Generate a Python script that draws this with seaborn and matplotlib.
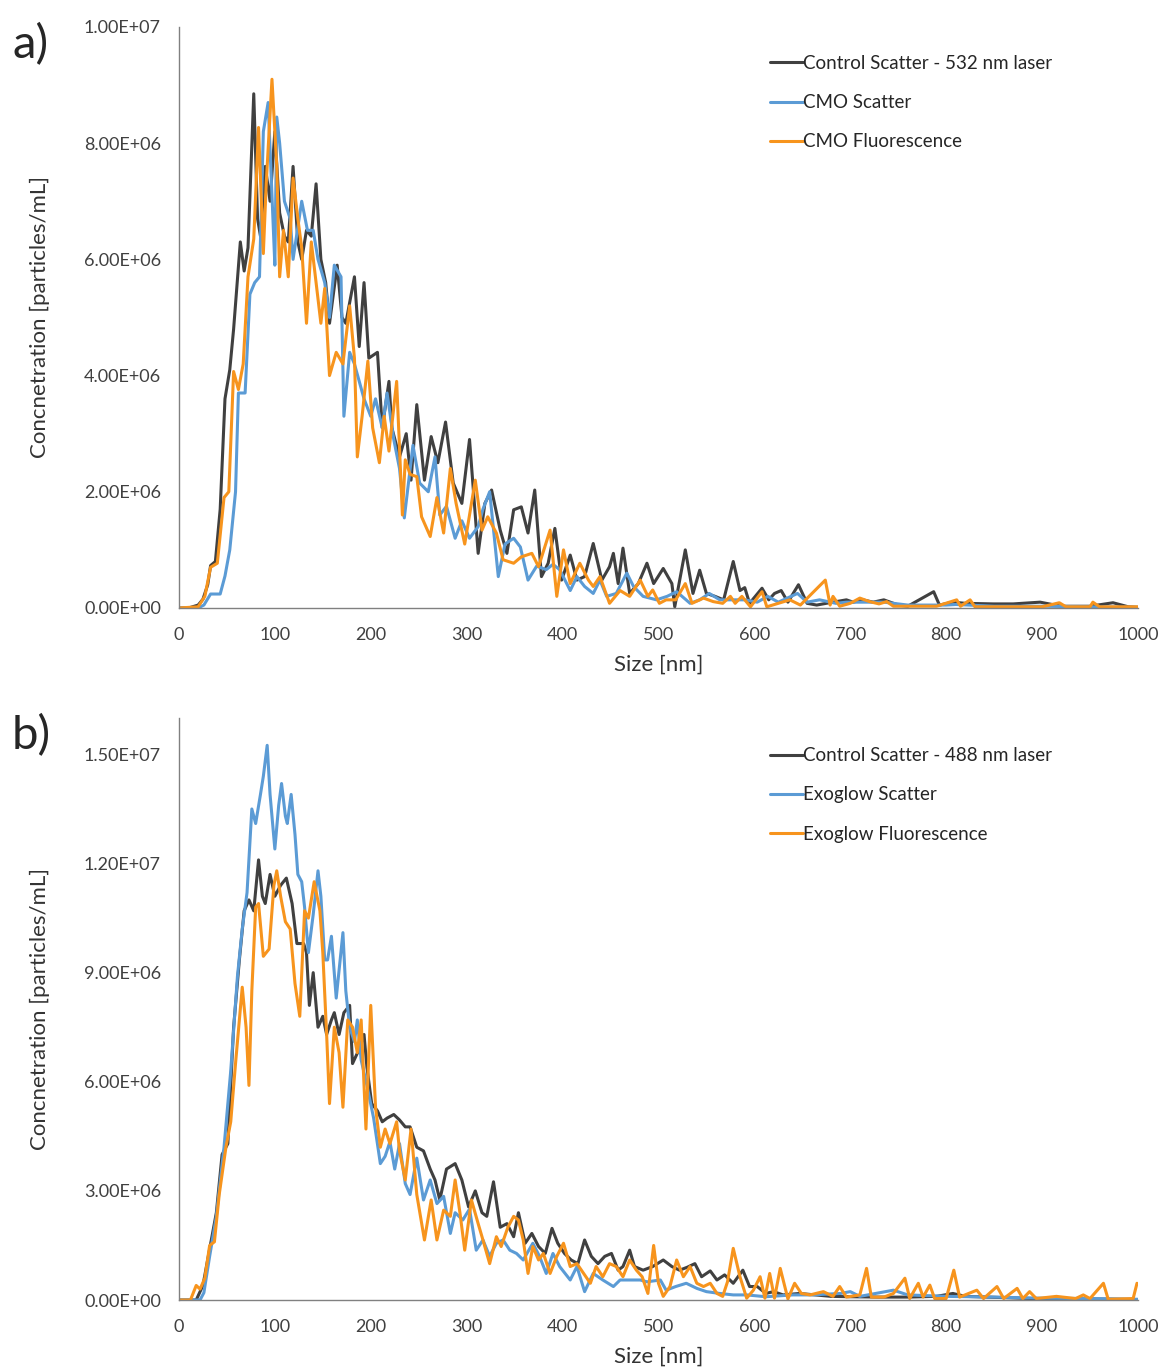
import numpy as np
import pandas as pd
import seaborn as sns
import matplotlib
matplotlib.use("Agg")
import matplotlib.pyplot as plt
from matplotlib.ticker import FuncFormatter, MultipleLocator

# values, concentration in units of 1e6 particles/mL
# panel a) - 532 nm laser
a_ctrl_nm = [0, 10, 20, 25, 30, 33, 38, 43, 48, 53, 57, 64, 68, 72, 78, 82, 85, 90, 95, 100,
             105, 110, 114, 119, 124, 128, 133, 138, 143, 148, 153, 157, 165, 170, 174, 183, 188, 193, 198, 207,
             212, 219, 222, 230, 237, 242, 248, 256, 263, 270, 278, 286, 295, 303, 312, 319, 326, 335, 342, 349,
             357, 364, 371, 378, 385, 392, 399, 408, 415, 423, 432, 441, 449, 453, 458, 463, 470, 479, 488, 495,
             505, 514, 517, 528, 536, 543, 550, 559, 568, 578, 585, 590, 595, 608, 615, 621, 628, 635, 646, 655,
             665, 675, 696, 703, 713, 724, 735, 750, 760, 787, 793, 807, 820, 849, 870, 898, 920, 950, 974, 990, 1000]
a_ctrl_val = [0, 0, 0.05, 0.15, 0.4, 0.73, 0.8, 1.7, 3.6, 4.1, 4.8, 6.3, 5.8, 6.2, 8.85, 6.7, 6.4, 7.6, 7.0, 8.2,
              6.8, 6.4, 6.3, 7.6, 6.3, 6.0, 6.5, 6.4, 7.3, 6.0, 5.6, 4.9, 5.9, 5.0, 4.9, 5.7, 4.5, 5.6, 4.3, 4.4,
              3.1, 3.9, 3.1, 2.6, 3.0, 2.2, 3.5, 2.2, 2.95, 2.5, 3.2, 2.15, 1.8, 2.9, 0.94, 1.8, 2.03, 1.34, 0.94, 1.69,
              1.74, 1.29, 2.03, 0.54, 0.77, 1.37, 0.48, 0.91, 0.48, 0.54, 1.11, 0.48, 0.71, 0.94, 0.42, 1.03, 0.25, 0.42, 0.77, 0.42,
              0.68, 0.42, 0.02, 1.0, 0.25, 0.65, 0.25, 0.2, 0.14, 0.8, 0.3, 0.35, 0.08, 0.34, 0.14, 0.25, 0.3, 0.1, 0.4, 0.08,
              0.05, 0.08, 0.14, 0.1, 0.14, 0.1, 0.14, 0.05, 0.03, 0.28, 0.05, 0.1, 0.08, 0.07, 0.07, 0.1, 0.03, 0.03, 0.09, 0.02, 0.01]

a_cmo_nm = [0, 20, 26, 33, 43, 48, 53, 59, 62, 69, 74, 79, 84, 88, 93, 98, 100, 102, 105, 110,
            116, 119, 128, 134, 140, 145, 152, 157, 162, 169, 172, 178, 183, 188, 193, 200, 205, 212, 217, 224,
            230, 235, 244, 251, 260, 267, 272, 279, 288, 295, 303, 312, 317, 324, 333, 340, 349, 356, 364, 373,
            383, 390, 397, 408, 415, 423, 432, 439, 446, 456, 467, 474, 484, 498, 509, 519, 533, 543, 553, 564,
            578, 590, 603, 614, 625, 645, 655, 668, 685, 696, 720, 735, 760, 800, 810, 850, 900, 950, 1000]
a_cmo_val = [0, 0, 0.05, 0.24, 0.24, 0.55, 1.0, 2.0, 3.7, 3.7, 5.4, 5.6, 5.7, 8.2, 8.7, 6.7, 5.9, 8.45, 8.0, 7.0,
             6.7, 6.0, 7.0, 6.5, 6.5, 6.0, 5.6, 5.0, 5.9, 5.7, 3.3, 4.4, 4.2, 3.9, 3.6, 3.3, 3.6, 3.1, 3.7, 2.9,
             2.4, 1.55, 2.8, 2.15, 2.0, 2.6, 1.6, 1.75, 1.2, 1.5, 1.2, 1.4, 1.7, 2.0, 0.54, 1.1, 1.2, 1.05, 0.48, 0.72,
             0.66, 0.75, 0.66, 0.3, 0.54, 0.37, 0.25, 0.48, 0.2, 0.25, 0.6, 0.37, 0.2, 0.14, 0.2, 0.28, 0.08, 0.14, 0.25, 0.14,
             0.14, 0.14, 0.1, 0.2, 0.1, 0.25, 0.1, 0.14, 0.08, 0.1, 0.1, 0.1, 0.05, 0.05, 0.06, 0.03, 0.03, 0.02, 0.01]

a_fluo_nm = [0, 20, 27, 33, 40, 47, 52, 57, 62, 67, 72, 78, 83, 88, 91, 97, 102, 105, 109, 114,
             119, 124, 128, 133, 138, 143, 148, 152, 157, 164, 171, 178, 183, 186, 191, 197, 202, 209, 214, 219,
             227, 233, 236, 241, 248, 253, 262, 269, 276, 283, 289, 298, 309, 316, 322, 331, 338, 349, 357, 368,
             375, 387, 394, 401, 408, 418, 427, 432, 439, 449, 460, 470, 481, 489, 494, 501, 508, 518, 528, 535,
             547, 557, 567, 575, 580, 587, 596, 608, 613, 625, 637, 648, 674, 679, 682, 689, 700, 710, 720, 730,
             738, 745, 790, 811, 815, 825, 830, 900, 918, 925, 950, 953, 960, 1000]
a_fluo_val = [0, 0.02, 0.2, 0.7, 0.77, 1.9, 2.0, 4.07, 3.76, 4.2, 5.7, 6.35, 8.27, 6.1, 7.3, 9.1, 7.6, 5.7, 6.5, 5.7,
              7.4, 6.7, 6.2, 4.9, 6.3, 5.6, 4.9, 5.5, 4.0, 4.4, 4.2, 5.2, 4.3, 2.6, 3.3, 4.25, 3.1, 2.5, 3.3, 2.7,
              3.9, 1.6, 2.55, 2.3, 2.26, 1.57, 1.23, 1.9, 1.29, 2.4, 1.8, 1.1, 2.2, 1.34, 1.57, 1.29, 0.83, 0.77, 0.88, 0.94,
              0.71, 1.34, 0.2, 1.0, 0.42, 0.77, 0.48, 0.37, 0.54, 0.08, 0.3, 0.2, 0.48, 0.2, 0.31, 0.08, 0.14, 0.14, 0.42, 0.08,
              0.17, 0.11, 0.08, 0.2, 0.08, 0.2, 0.02, 0.28, 0.02, 0.08, 0.14, 0.05, 0.48, 0.05, 0.2, 0.03, 0.08, 0.17, 0.11, 0.07,
              0.11, 0.03, 0.03, 0.14, 0.03, 0.14, 0.02, 0.02, 0.09, 0.02, 0.02, 0.1, 0.02, 0.02]

# panel b) - 488 nm laser
b_ctrl_nm = [0, 18, 25, 32, 39, 45, 51, 57, 63, 68, 73, 78, 83, 87, 90, 95, 100, 106, 112, 118,
             123, 130, 133, 136, 140, 145, 150, 154, 159, 162, 167, 172, 178, 181, 188, 193, 196, 201, 207, 212,
             217, 224, 230, 236, 241, 248, 255, 262, 267, 272, 279, 288, 295, 302, 309, 316, 321, 328, 335, 342,
             349, 354, 361, 368, 375, 382, 389, 395, 402, 409, 416, 423, 430, 437, 444, 451, 458, 463, 470, 475,
             484, 494, 505, 514, 522, 530, 538, 545, 554, 561, 569, 578, 588, 595, 603, 612, 620, 630, 647, 680,
             700, 730, 760, 790, 807, 820, 890, 950, 1000]
b_ctrl_val = [0, 0, 0.4, 1.4, 2.4, 4.0, 4.3, 7.5, 9.35, 10.7, 11.0, 10.7, 12.1, 11.1, 10.9, 11.7, 11.1, 11.4, 11.6, 10.9,
              9.8, 9.8, 9.55, 8.1, 9.0, 7.5, 7.8, 7.3, 7.7, 7.9, 7.3, 7.9, 8.1, 6.5, 6.9, 7.3, 6.4, 5.4, 5.2, 4.9,
              5.0, 5.1, 4.95, 4.76, 4.76, 4.2, 4.1, 3.6, 3.3, 2.75, 3.6, 3.75, 3.3, 2.56, 3.0, 2.4, 2.3, 3.25, 2.0, 2.1,
              1.74, 2.4, 1.56, 1.83, 1.47, 1.28, 1.97, 1.56, 1.28, 1.1, 1.0, 1.65, 1.2, 1.0, 1.2, 1.28, 0.82, 0.92, 1.37, 0.92,
              0.82, 0.92, 1.1, 0.92, 0.82, 0.9, 1.0, 0.64, 0.8, 0.55, 0.69, 0.46, 0.82, 0.37, 0.37, 0.18, 0.23, 0.14, 0.18, 0.1,
              0.09, 0.08, 0.08, 0.1, 0.18, 0.1, 0.04, 0.03, 0.01]

b_exo_nm = [0, 22, 26, 32, 39, 47, 54, 61, 66, 71, 76, 80, 85, 88, 92, 95, 100, 104, 107, 111,
            113, 117, 121, 124, 128, 131, 135, 140, 145, 148, 152, 155, 159, 164, 171, 174, 178, 183, 186, 190,
            196, 203, 210, 215, 220, 225, 230, 236, 241, 248, 255, 262, 269, 276, 283, 288, 296, 303, 310, 317,
            324, 331, 338, 345, 352, 359, 369, 376, 383, 390, 397, 408, 415, 423, 432, 442, 453, 460, 470, 481,
            488, 502, 508, 518, 529, 540, 550, 564, 578, 592, 612, 640, 660, 690, 700, 710, 745, 760, 800, 850,
            900, 950, 1000]
b_exo_val = [0, 0, 0.2, 1.2, 2.3, 4.2, 6.3, 8.9, 10.2, 11.2, 13.5, 13.1, 13.9, 14.4, 15.25, 13.9, 12.4, 13.6, 14.2, 13.3,
             13.1, 13.9, 12.8, 11.7, 11.5, 10.8, 9.55, 10.6, 11.8, 11.1, 9.35, 9.35, 10.0, 8.3, 10.1, 8.5, 7.5, 7.1, 7.7, 6.6,
             5.9, 5.0, 3.75, 3.95, 4.35, 3.6, 4.3, 3.2, 2.9, 3.9, 2.75, 3.3, 2.65, 2.85, 1.83, 2.4, 2.2, 2.5, 1.37, 1.65,
             1.2, 1.56, 1.65, 1.37, 1.28, 1.1, 1.56, 1.2, 0.73, 1.28, 0.92, 0.55, 0.92, 0.23, 0.73, 0.55, 0.37, 0.55, 0.55, 0.55,
             0.5, 0.55, 0.27, 0.37, 0.46, 0.32, 0.23, 0.18, 0.14, 0.14, 0.09, 0.14, 0.14, 0.18, 0.23, 0.1, 0.27, 0.14, 0.1, 0.08,
             0.05, 0.04, 0.02]

b_fluo_nm = [0, 12, 18, 22, 27, 32, 37, 42, 49, 54, 59, 66, 70, 73, 76, 80, 83, 88, 94, 99,
             102, 106, 111, 116, 121, 126, 131, 135, 141, 147, 150, 154, 157, 162, 167, 171, 176, 181, 186, 190,
             195, 200, 205, 210, 215, 220, 227, 230, 236, 242, 248, 256, 263, 269, 276, 283, 288, 293, 298, 305,
             312, 317, 324, 331, 336, 343, 349, 354, 359, 364, 369, 375, 380, 387, 394, 401, 408, 415, 422, 429,
             435, 442, 449, 456, 463, 470, 477, 483, 489, 495, 500, 505, 512, 519, 526, 533, 540, 547, 554, 561,
             567, 572, 578, 585, 592, 599, 606, 611, 616, 621, 627, 635, 642, 649, 658, 672, 682, 689, 696, 710,
             717, 722, 735, 745, 757, 762, 771, 776, 783, 788, 800, 808, 814, 832, 839, 853, 860, 874, 880, 887,
             894, 915, 935, 943, 950, 964, 969, 995, 999]
b_fluo_val = [0, 0, 0.4, 0.3, 0.6, 1.5, 1.6, 2.9, 4.2, 4.9, 6.5, 8.6, 7.5, 5.9, 8.5, 10.8, 10.9, 9.45, 9.65, 11.4,
              11.8, 11.1, 10.4, 10.2, 8.7, 7.8, 10.7, 10.5, 11.5, 10.7, 9.55, 7.3, 5.4, 7.5, 6.8, 5.3, 7.7, 7.5, 6.8, 7.7,
              4.7, 8.1, 5.3, 4.2, 4.7, 4.3, 4.9, 4.1, 3.3, 4.7, 2.9, 1.65, 2.75, 1.65, 2.47, 2.3, 3.3, 2.4, 1.37, 2.75,
              2.1, 1.65, 1.0, 1.74, 1.47, 2.0, 2.3, 2.2, 1.65, 0.73, 1.47, 1.1, 1.28, 0.73, 1.2, 1.56, 0.92, 1.0, 0.73, 0.46,
              0.92, 0.64, 1.0, 0.92, 0.64, 1.1, 0.82, 0.64, 0.18, 1.5, 0.46, 0.1, 0.37, 1.1, 0.64, 0.92, 0.46, 0.37, 0.46, 0.18,
              0.1, 0.5, 1.42, 0.64, 0.05, 0.27, 0.64, 0.05, 0.73, 0.05, 0.87, 0.03, 0.46, 0.18, 0.14, 0.23, 0.1, 0.37, 0.08, 0.14,
              0.87, 0.08, 0.08, 0.18, 0.6, 0.04, 0.46, 0.08, 0.41, 0.04, 0.04, 0.82, 0.08, 0.27, 0.04, 0.37, 0.04, 0.32, 0.04, 0.23,
              0.04, 0.1, 0.04, 0.14, 0.04, 0.46, 0.02, 0.04, 0.46]

labels_a = ["Control Scatter - 532 nm laser", "CMO Scatter", "CMO Fluorescence"]
labels_b = ["Control Scatter - 488 nm laser", "Exoglow Scatter", "Exoglow Fluorescence"]
colors = ["#404040", "#5B9BD5", "#F7941D"]

sns.set_theme(style="white")
plt.rcParams["font.family"] = ["Lato", "DejaVu Sans"]

fig = plt.figure(figsize=(11.62, 13.69), dpi=100)
ax_a = fig.add_axes([0.154, 0.5559, 0.8253, 0.4244])
ax_b = fig.add_axes([0.154, 0.0504, 0.8253, 0.4251])

panels = [
    (ax_a, [(a_ctrl_nm, a_ctrl_val), (a_cmo_nm, a_cmo_val), (a_fluo_nm, a_fluo_val)], labels_a, 1.0e7, 2e6, "a)", 0.952),
    (ax_b, [(b_ctrl_nm, b_ctrl_val), (b_exo_nm, b_exo_val), (b_fluo_nm, b_fluo_val)], labels_b, 1.6e7, 3e6, "b)", 0.950),
]

sci = FuncFormatter(lambda v, p: f"{v:.2E}")

for ax, series, labels, ymax, ystep, tag, legy in panels:
    for (nm, val), lab, col in zip(series, labels, colors):
        df = pd.DataFrame({"Size": nm, "Conc": np.array(val) * 1e6})
        sns.lineplot(data=df, x="Size", y="Conc", ax=ax, color=col, label=lab,
                     linewidth=2.2, estimator=None, errorbar=None, sort=False)
    ax.set_xlim(0, 1000)
    ax.set_ylim(0, ymax)
    ax.xaxis.set_major_locator(MultipleLocator(100))
    ax.yaxis.set_major_locator(MultipleLocator(ystep))
    ax.yaxis.set_major_formatter(sci)
    ax.tick_params(axis="both", length=0, labelsize=13, colors="#404040")
    ax.tick_params(axis="x", pad=14)
    ax.tick_params(axis="y", pad=13)
    for s in ["top", "right"]:
        ax.spines[s].set_visible(False)
    for s in ["left", "bottom"]:
        ax.spines[s].set_color("#808080")
        ax.spines[s].set_linewidth(1.0)
    ax.set_xlabel("Size [nm]", fontsize=16, color="#333333", labelpad=8)
    ax.set_ylabel("Concnetration [particles/mL]", fontsize=16, color="#333333", labelpad=24)
    leg = ax.legend(loc="upper left", bbox_to_anchor=(0.616, legy), frameon=False,
                    fontsize=13.5, handlelength=1.8, handletextpad=0.0,
                    labelspacing=1.19, borderaxespad=0, borderpad=0)
    for t in leg.get_texts():
        t.set_color("#262626")
    ax.text(-0.174, 0.97, tag, transform=ax.transAxes, fontsize=34, color="#262626",
            ha="left", va="center")

fig.savefig("out.png", dpi=100)
